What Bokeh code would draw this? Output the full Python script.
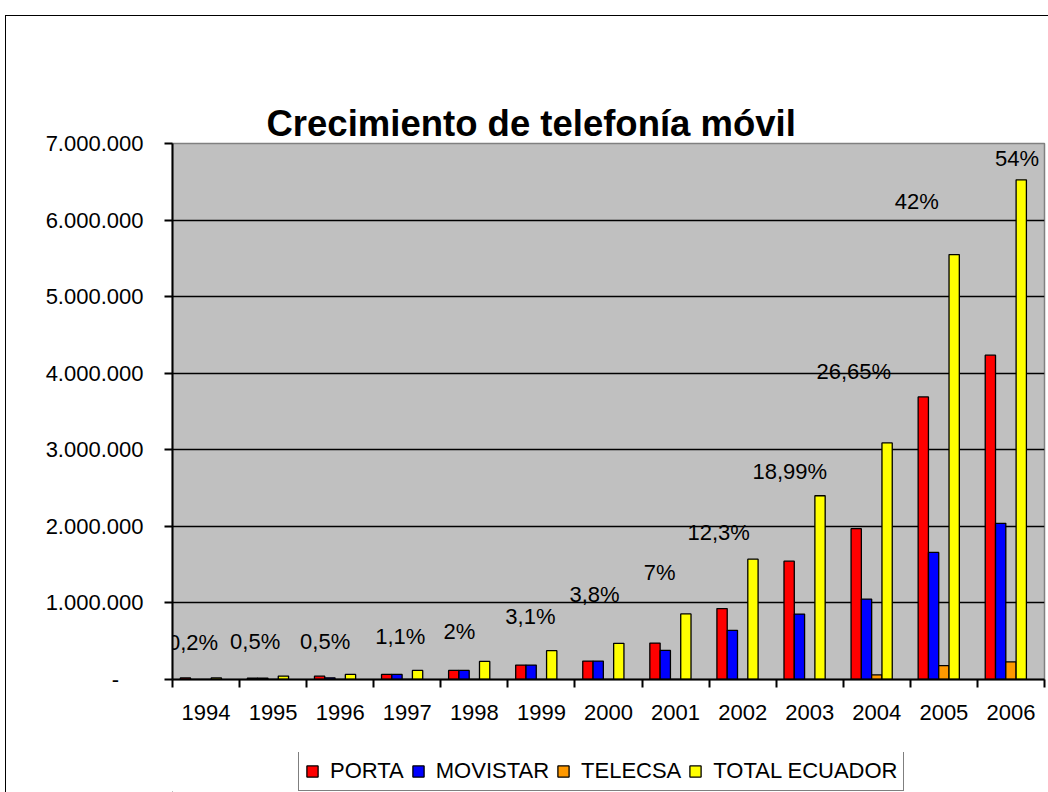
from bokeh.plotting import figure
from bokeh.layouts import column
from bokeh.models import (ColumnDataSource, Range1d, FixedTicker, LinearAxis,
                          Legend, LegendItem, InlineStyleSheet, Title)
from bokeh.core.properties import value
from bokeh.transform import dodge
from bokeh.embed import file_html
from bokeh.resources import INLINE

# ---------------- data ----------------
years = ["1994", "1995", "1996", "1997", "1998", "1999", "2000",
         "2001", "2002", "2003", "2004", "2005", "2006"]
porta = [20000, 18000, 44000, 66000, 118000, 188000, 240000,
         476000, 926000, 1545000, 1970000, 3690000, 4235000]
movistar = [0, 18000, 22000, 66000, 118000, 188000, 240000,
            380000, 642000, 855000, 1050000, 1660000, 2040000]
telecsa = [0, 0, 0, 0, 0, 0, 0, 0, 0, 0, 60000, 180000, 230000]
total_ecuador = [20000, 45000, 66000, 118000, 236000, 376000, 472000,
                 856000, 1572000, 2400000, 3090000, 5550000, 6525000]
pct_labels = ["0,2%", "0,5%", "0,5%", "1,1%", "2%", "3,1%", "3,8%",
              "7%", "12,3%", "18,99%", "26,65%", "42%", "54%"]
pct_label_y = [487000, 500000, 500000, 560000, 630000, 820000, 1110000,
               1400000, 1920000, 2710000, 4020000, 6240000, 6800000]
pct_label_dx = [-13, -18, -15, -7, -15, -11, -14, -16, -24, -20, -23, -27, 6]
y_ticks = [0, 1000000, 2000000, 3000000, 4000000, 5000000, 6000000, 7000000]
y_tick_labels = ["-", "1.000.000", "2.000.000", "3.000.000", "4.000.000",
                 "5.000.000", "6.000.000", "7.000.000"]
series_keys = ["porta", "movistar", "telecsa", "total"]
series_names = ["PORTA", "MOVISTAR", "TELECSA", "TOTAL ECUADOR"]
series_colors = ["#FF0000", "#0000FF", "#FF9900", "#FFFF00"]
title_text = "Crecimiento de telefonía móvil"

# ---------------- layout constants ----------------
FONT = "Liberation Sans"
W = 1048
H_CHART, H_LEGEND = 752, 40
n = len(years)
xc = [i + 0.5 for i in range(n)]          # category centres on a 0..n axis

chart_css = InlineStyleSheet(css="""
:host { position: relative; }
:host::after {
  content: ""; position: absolute; left: 5px; top: 15px; right: 0px; bottom: 0px;
  border-left: 1.5px solid black; border-top: 1.5px solid black;
  pointer-events: none; box-sizing: border-box;
}
""")
legend_css = InlineStyleSheet(css="""
:host { position: relative; }
:host::after {
  content: ""; position: absolute; left: 5px; top: 0px; right: 0px; bottom: 0px;
  border-left: 1.5px solid black;
  pointer-events: none; box-sizing: border-box;
}
""")

# ---------------- main chart ----------------
p = figure(width=W, height=H_CHART, title=None,
           x_range=Range1d(0, n), y_range=Range1d(0, y_ticks[-1]),
           x_axis_location=None,
           output_backend="svg", toolbar_location=None,
           min_border_left=172, min_border_right=4,
           min_border_top=143, min_border_bottom=73,
           background_fill_color="#C0C0C0", border_fill_color="white",
           stylesheets=[chart_css])
p.outline_line_color = "#808080"
p.outline_line_width = 1.5

# title, then a spacer between it and the frame
p.add_layout(Title(text=title_text, text_font=FONT, text_font_size="36.5px",
                   text_font_style="bold", text_color="black",
                   align="left", offset=94, standoff=0), "above")
top_spacer = LinearAxis(ticker=FixedTicker(ticks=[]),
                        major_tick_out=60, major_tick_in=0,
                        minor_tick_out=0, minor_tick_in=0,
                        axis_line_color=None, major_tick_line_color=None,
                        minor_tick_line_color=None,
                        major_label_text_font_size="0px", major_label_standoff=0)
p.add_layout(top_spacer, "above")

# bars
src = ColumnDataSource(dict(xc=xc, porta=porta, movistar=movistar,
                            telecsa=telecsa, total=total_ecuador))
bw = 0.1535
for i, (key, color) in enumerate(zip(series_keys, series_colors)):
    p.vbar(x=dodge("xc", (i - 2) * bw), top=key, width=bw,
           source=src, fill_color=color, line_color="black", line_width=1.3)

# percentage labels
lsrc = ColumnDataSource(dict(xc=xc, y=pct_label_y, text=pct_labels, dx=pct_label_dx))
p.text(x="xc", y="y", text="text", x_offset="dx", source=lsrc,
       text_align="center", text_baseline="middle",
       text_font=value(FONT), text_font_size="22px", text_color="black")

# x axes: boundary ticks + year labels
edge_ticks = list(range(n + 1))
edge_axis = LinearAxis(ticker=FixedTicker(ticks=edge_ticks),
                       major_tick_out=8, major_tick_in=0,
                       minor_tick_out=0, minor_tick_in=0,
                       major_label_text_font_size="0px", major_label_standoff=0,
                       major_label_overrides={t: "" for t in edge_ticks},
                       axis_line_color="black", axis_line_width=2,
                       major_tick_line_color="black", major_tick_line_width=2)
p.add_layout(edge_axis, "below")

year_axis = LinearAxis(ticker=FixedTicker(ticks=xc),
                       major_label_overrides={x: y for x, y in zip(xc, years)},
                       major_tick_out=0, major_tick_in=0,
                       minor_tick_out=0, minor_tick_in=0,
                       axis_line_color=None, major_tick_line_color=None,
                       major_label_standoff=17,
                       major_label_text_font=FONT, major_label_text_font_size="22px",
                       major_label_text_color="black")
p.add_layout(year_axis, "below")

# y axis
p.yaxis.ticker = FixedTicker(ticks=y_ticks)
p.yaxis.major_label_overrides = {
    t: (lab + "\u00a0" * 4 if lab == "-" else lab) for t, lab in zip(y_ticks, y_tick_labels)}
p.yaxis.major_label_text_font = FONT
p.yaxis.major_label_text_font_size = "22px"
p.yaxis.major_label_text_color = "black"
p.yaxis.major_label_standoff = 21
p.yaxis.major_tick_out = 8
p.yaxis.major_tick_in = 0
p.yaxis.minor_tick_out = 0
p.yaxis.minor_tick_in = 0
p.yaxis.axis_line_color = "black"
p.yaxis.axis_line_width = 2
p.yaxis.major_tick_line_color = "black"
p.yaxis.major_tick_line_width = 2

# grid
p.xgrid.visible = False
p.ygrid.ticker = FixedTicker(ticks=y_ticks[1:-1])
p.ygrid.grid_line_color = "black"
p.ygrid.grid_line_width = 1.3

# ---------------- legend strip ----------------
pl = figure(width=W, height=H_LEGEND,
            x_range=Range1d(0, 1), y_range=Range1d(0, 1),
            x_axis_location=None, y_axis_location=None,
            output_backend="svg", toolbar_location=None,
            min_border_left=0, min_border_right=0, min_border_top=0, min_border_bottom=0,
            background_fill_color="white", border_fill_color="white",
            outline_line_color=None, stylesheets=[legend_css])
pl.grid.visible = False
swatches = []
for color in series_colors:
    # one point kept far outside the visible range: only its legend swatch shows
    swatches.append(pl.vbar(x=[-5], top=[-5], bottom=[-6], width=0.1, fill_color=color,
                            line_color="black", line_width=1.3))

legend = Legend(items=[LegendItem(label=nm, renderers=[r]) for nm, r in zip(series_names, swatches)],
                orientation="horizontal", location=(126, 1),
                glyph_width=14, glyph_height=14, label_standoff=11, spacing=7,
                padding=6, margin=0,
                border_line_color="black", border_line_width=1.5,
                background_fill_color="white", background_fill_alpha=1,
                label_text_font=FONT, label_text_font_size="22px", label_text_color="black")
pl.add_layout(legend)

layout = column(p, pl, spacing=0)
open("out.html", "w").write(file_html(layout, INLINE))
